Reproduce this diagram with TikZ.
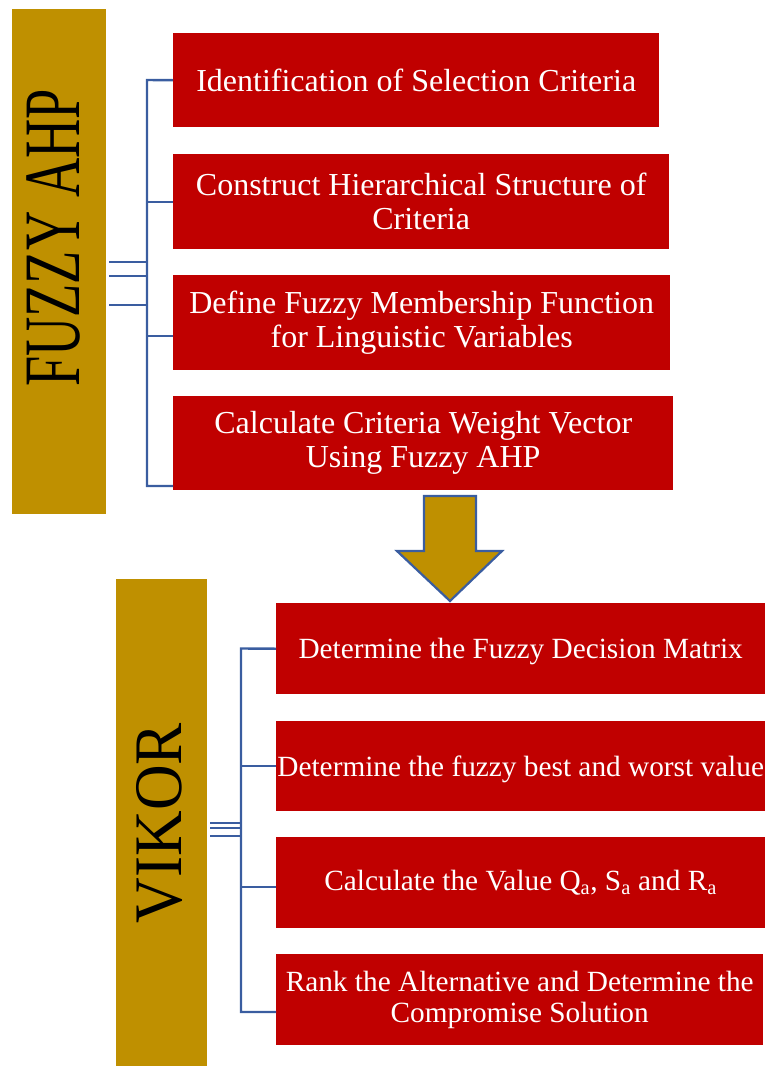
\documentclass[tikz,border=0pt]{standalone}
\usepackage{fontspec}
\setmainfont{Liberation Serif}
\usepackage{graphicx}
\definecolor{boxred}{HTML}{C00000}
\definecolor{gold}{HTML}{BF9000}
\definecolor{lineblue}{HTML}{3A5DA0}
\begin{document}
\begin{tikzpicture}[x=1pt,y=-1pt,
  redbox/.style={fill=boxred, text=white, inner sep=0pt, align=center, anchor=north west},
  ahpbox/.style={redbox, font=\fontsize{32}{34}\selectfont},
  vikbox/.style={redbox, font=\fontsize{29.3}{31}\selectfont},
  oneline/.style={text depth=0pt},
  goldbox/.style={fill=gold, inner sep=0pt, anchor=north west},
  conn/.style={draw=lineblue, line width=2.4pt},
]
\useasboundingbox (0,0) rectangle (766,1066);
% ---- FUZZY AHP ----
\node[goldbox, minimum width=94pt, minimum height=505pt] (ahp) at (12,9) {};
\node[rotate=90, inner sep=0pt, font=\fontsize{80}{80}\selectfont] (ahplabel) at (53.5,238) {\scalebox{0.68}[1]{FUZZY AHP}};

\node[ahpbox, oneline, minimum width=486pt, minimum height=94pt] (f1) at (173,33) {Identification of Selection Criteria};
\node[ahpbox, minimum width=496pt, minimum height=95pt] (f2) at (173,154) {Construct Hierarchical Structure of\\Criteria};
\node[ahpbox, minimum width=497pt, minimum height=95pt] (f3) at (173,275) {Define Fuzzy Membership Function\\for Linguistic Variables};
\node[ahpbox, minimum width=500pt, minimum height=94pt] (f4) at (173,396) {Calculate Criteria Weight Vector\\Using Fuzzy AHP};

\coordinate (fa) at (147,80);
\coordinate (fb) at (147,486);
\draw[conn] (f1.west) -- (fa) -- (fb) -- (f4.west |- fb);
\draw[conn] (fa |- f2.west) -- (f2.west);
\draw[conn] (147,336) -- (f3.west |- 0,336);
\coordinate (fl1) at (109,262);
\coordinate (fl2) at (109,276);
\coordinate (fl3) at (109,305);
\draw[conn] (fl1) -- (fa |- fl1);
\draw[conn] (fl2) -- (fa |- fl2);
\draw[conn] (fl3) -- (fa |- fl3);

% ---- block arrow ----
\draw[fill=gold, draw=lineblue, line width=2.2pt, line join=miter]
  (424,496) -- (476,496) -- (476,551) -- (502,551) -- (450,601) -- (397,551) -- (424,551) -- cycle;

% ---- VIKOR ----
\node[goldbox, minimum width=91pt, minimum height=487pt] (vik) at (116,579) {};
\node[rotate=90, inner sep=0pt, font=\fontsize{68}{68}\selectfont] (viklabel) at (159.5,823) {\scalebox{0.93}[1]{VIKOR}};

\node[vikbox, oneline, minimum width=489pt, minimum height=91pt] (v1) at (276,603) {Determine the Fuzzy Decision Matrix};
\node[vikbox, oneline, minimum width=489pt, minimum height=90pt] (v2) at (276,721) {Determine the fuzzy best and worst value};
\node[vikbox, minimum width=489pt, minimum height=91pt] (v3) at (276,837) {Calculate the Value Q\textsubscript{a}, S\textsubscript{a} and R\textsubscript{a}};
\node[vikbox, minimum width=487pt, minimum height=91pt] (v4) at (276,954) {Rank the Alternative and Determine the\\Compromise Solution};

\coordinate (va) at (241,648.5);
\coordinate (vb) at (241,1012);
\draw[conn] (v1.west) -- (va) -- (vb) -- (v4.west |- vb);
\draw[conn] (va |- v2.west) -- (v2.west);
\draw[conn] (241,887) -- (v3.west |- 0,887);
\coordinate (vl1) at (210,823);
\coordinate (vl2) at (210,828);
\coordinate (vl3) at (210,836);
\draw[conn] (vl1) -- (va |- vl1);
\draw[conn] (vl2) -- (va |- vl2);
\draw[conn] (vl3) -- (va |- vl3);
\end{tikzpicture}
\end{document}
